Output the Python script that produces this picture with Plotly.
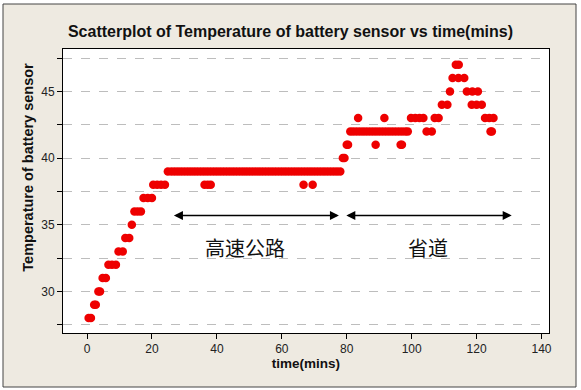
import plotly.graph_objects as go

# ---- data ----
time_mins = [
    0.5, 1.2, 2.2, 2.7, 3.5, 4.0, 4.8, 5.8, 6.6, 7.7, 8.9, 9.7, 11.0, 11.8, 13.0, 13.8,
    14.6, 15.6, 16.6, 17.4, 18.7, 20.0, 20.4, 21.6, 22.8, 24.0,
    24.9, 26, 27, 28, 29, 30, 31, 32, 33, 34, 35, 36, 37, 38, 39, 40, 41, 42, 43, 44,
    45, 46, 47, 48, 49, 50, 51, 52, 53, 54, 55, 56, 57, 58, 59, 60, 61, 62, 63, 64,
    65, 66, 67, 68, 69, 70, 71, 72, 73, 74, 75, 76, 77, 78,
    36.2, 37.2, 38.1, 66.7, 69.5,
    78.8, 79.3, 80.0, 80.4,
    81.1, 82, 83, 84, 85, 86, 87, 88, 89, 90, 91, 92, 93, 94, 95, 96, 97, 98, 98.8,
    83.5, 88.9, 91.6, 96.6, 97.0,
    99.8, 101.1, 102.4, 103.6, 104.6, 106.2, 107.1, 108.3, 109.3, 111.0, 111.8,
    112.6, 114.4, 116.2, 113.6, 114.5, 117.0, 118.7, 120.4, 118.5, 120.0, 121.6,
    122.6, 123.9, 125.2, 124.3, 124.7,
]
temperature = [
    28, 28, 29, 29, 30, 30, 31, 31, 32, 32, 32, 33, 33, 34, 34, 35,
    36, 36, 36, 37, 37, 37, 38, 38, 38, 38,
    39, 39, 39, 39, 39, 39, 39, 39, 39, 39, 39, 39, 39, 39, 39, 39, 39, 39, 39, 39,
    39, 39, 39, 39, 39, 39, 39, 39, 39, 39, 39, 39, 39, 39, 39, 39, 39, 39, 39, 39,
    39, 39, 39, 39, 39, 39, 39, 39, 39, 39, 39, 39, 39, 39,
    38, 38, 38, 38, 38,
    40, 40, 41, 41,
    42, 42, 42, 42, 42, 42, 42, 42, 42, 42, 42, 42, 42, 42, 42, 42, 42, 42, 42,
    43, 41, 43, 41, 41,
    43, 43, 43, 43, 42, 42, 43, 43, 44, 44, 45,
    46, 46, 46, 47, 47, 45, 45, 45, 44, 44, 44,
    43, 43, 43, 42, 42,
]
x_ticks = [0, 20, 40, 60, 80, 100, 120, 140]
y_ticks = [30, 35, 40, 45]
segment_labels = ["高速公路", "省道"]

# ---- geometry (pixels) ----
W, H = 581, 390
PL, PR, PT, PB = 63, 549, 49, 333
pw, ph = PR - PL, PB - PT

def px_x(p):
    return (p - PL) / pw

def px_y(p):
    return (PB - p) / ph

BEIGE = "#EEEAE1"
RED = "#EE0000"

fig = go.Figure()
fig.add_trace(go.Scatter(
    x=time_mins, y=temperature, mode="markers",
    marker=dict(symbol="circle", size=8.5, color=RED, line=dict(width=0)),
    hoverinfo="skip", showlegend=False,
))

# panel background, then white plotting area on top of it
shapes = [
    dict(type="rect", xref="paper", yref="paper", layer="below",
         x0=px_x(3), x1=px_x(576), y0=px_y(387), y1=px_y(4),
         fillcolor=BEIGE, line=dict(color="#444444", width=1)),
    dict(type="rect", xref="paper", yref="paper", layer="below",
         x0=0, x1=1, y0=0, y1=1, fillcolor="#FFFFFF", line=dict(width=0)),
]

annotations = []
# double-headed arrows
for (xa, xb) in [(26.3, 77.6), (79.4, 130.8)]:
    annotations.append(dict(
        x=xb, y=35.7, ax=xa, ay=35.7, xref="x", yref="y", axref="x", ayref="y",
        text="", showarrow=True, arrowside="end+start", arrowhead=2,
        arrowsize=1.2, arrowwidth=1.5, arrowcolor="#000000"))
for label, xc in zip(segment_labels, [48.6, 105.0]):
    annotations.append(dict(
        x=xc, y=33.3, xref="x", yref="y", text=label, showarrow=False,
        font=dict(family="Noto Sans CJK SC", size=20, color="#111111")))
# y-axis title (placed as in the reference, slightly above the plot centre)
annotations.append(dict(
    x=px_x(27.7), y=px_y(167), xref="paper", yref="paper",
    text="<b>Temperature of battery sensor</b>", textangle=-90, showarrow=False,
    xanchor="center", yanchor="middle",
    font=dict(family="Liberation Sans", size=14.5, color="#111111")))

fig.update_layout(
    width=W, height=H,
    margin=dict(l=PL, r=W - PR, t=PT, b=H - PB, pad=0),
    paper_bgcolor="#FFFFFF", plot_bgcolor="#FFFFFF",
    title=dict(text="<b>Scatterplot of Temperature of battery sensor vs time(mins)</b>",
               x=290.5 / W, xanchor="center", xref="container",
               y=1 - 31 / H, yanchor="middle", yref="container",
               font=dict(family="Liberation Sans", size=16, color="#111111")),
    shapes=shapes, annotations=annotations,
    font=dict(family="Liberation Sans", size=12, color="#222222"),
)
fig.update_xaxes(
    range=[-7.4, 142.3], tickmode="array", tickvals=x_ticks,
    ticks="outside", ticklen=5, tickwidth=1, tickcolor="#000000",
    showgrid=False, zeroline=False,
    showline=True, linecolor="#000000", linewidth=1, mirror=True,
    tickfont=dict(family="Liberation Sans", size=12, color="#222222"),
    title=dict(text="<b>time(mins)</b>", standoff=2,
               font=dict(family="Liberation Sans", size=13.5, color="#111111")),
)
fig.update_yaxes(
    range=[26.88, 48.18], tickmode="array", tickvals=y_ticks,
    ticks="outside", ticklen=5, tickwidth=1, tickcolor="#000000",
    showgrid=True, gridcolor="#BDBDBD", griddash="dash", gridwidth=1,
    minor=dict(dtick=2.5, tick0=0, ticks="outside", ticklen=5, tickcolor="#000000",
               showgrid=True, gridcolor="#BDBDBD", griddash="dash", gridwidth=1),
    zeroline=False,
    showline=True, linecolor="#000000", linewidth=1, mirror=True,
    tickfont=dict(family="Liberation Sans", size=12, color="#222222"),
)

fig.write_html("out.html", config={"displayModeBar": False},
               post_script="document.body.style.margin='0';")
